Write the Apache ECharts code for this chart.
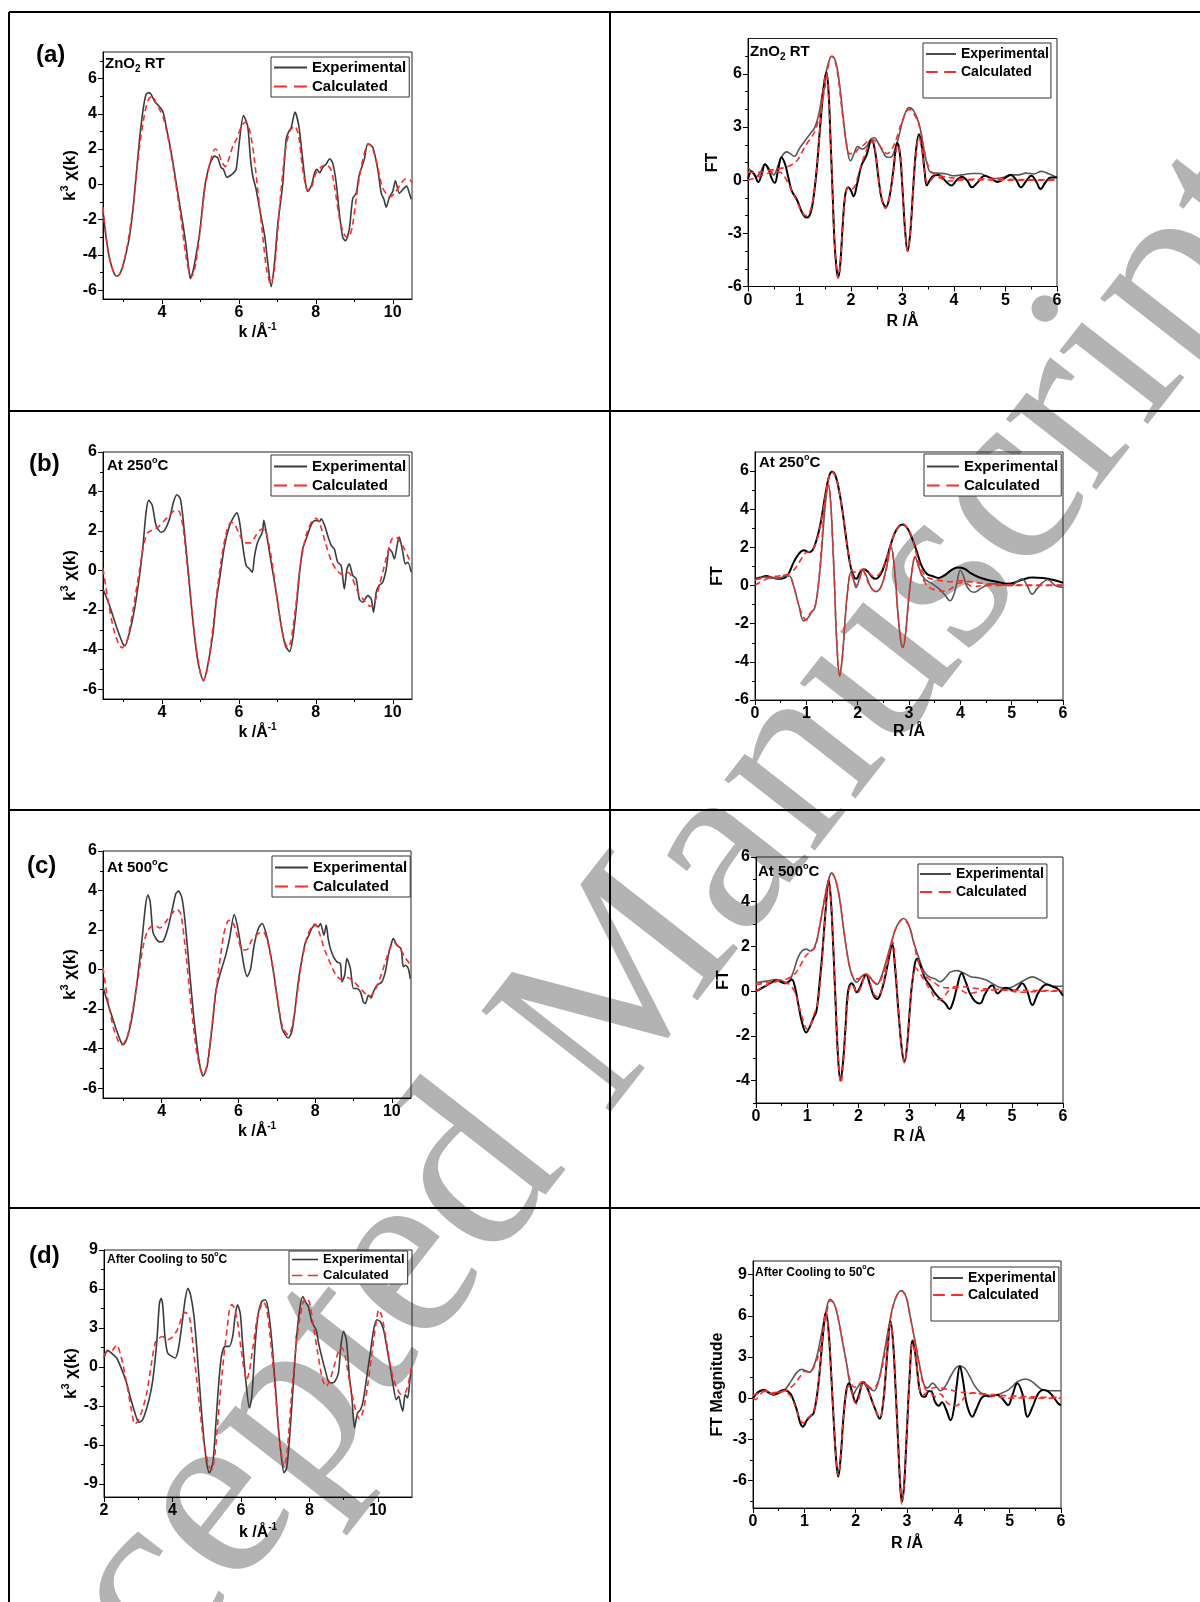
<!DOCTYPE html>
<html><head><meta charset="utf-8">
<script src="https://cdn.jsdelivr.net/npm/echarts@6/dist/echarts.min.js"></script>
<style>html,body{margin:0;padding:0;background:#fff}#c{width:1200px;height:1602px}</style>
</head><body><div id="c"></div>
<script>
// ---------------- tick labels ----------------
const kTicks = [4, 6, 8, 10];
const kMinor = [3, 5, 7, 9];
const kTicksD = [2, 4, 6, 8, 10];
const kMinorD = [3, 5, 7, 9];
const rTicks = [0, 1, 2, 3, 4, 5, 6];
const rMinor = [0.5, 1.5, 2.5, 3.5, 4.5, 5.5];
const yTicksK = [-6, -4, -2, 0, 2, 4, 6];
const yMinorKa = [-5, -3, -1, 1, 3, 5, 7];
const yMinorK = [-5, -3, -1, 1, 3, 5];
const yTicksFTa = [-6, -3, 0, 3, 6];
const yMinorFTa = [-5, -4, -2, -1, 1, 2, 4, 5, 7];
const yTicksFTb = [-6, -4, -2, 0, 2, 4, 6];
const yMinorFTb = [-5, -3, -1, 1, 3, 5];
const yTicksFTc = [-4, -2, 0, 2, 4, 6];
const yMinorFTc = [-5, -3, -1, 1, 3, 5];
const yTicksKd = [-9, -6, -3, 0, 3, 6, 9];
const yMinorKd = [-7.5, -4.5, -1.5, 1.5, 4.5, 7.5];
const yTicksFTd = [-6, -3, 0, 3, 6, 9];
const yMinorFTd = [-7.5, -4.5, -1.5, 1.5, 4.5, 7.5];

// ---------------- (a) ZnO2 RT ----------------
const aLeftExp = [[2.47,-1.5],[2.55,-3.0],[2.65,-4.3],[2.75,-5.0],[2.82,-5.2],[2.9,-5.1],[2.99,-4.6],[3.07,-3.9],[3.16,-2.95],[3.25,-1.4],[3.33,0.45],[3.42,2.55],[3.51,4.2],[3.59,5.1],[3.66,5.2],[3.72,5.1],[3.81,4.7],[3.94,4.4],[4.03,4.1],[4.11,3.3],[4.2,2.3],[4.29,1.2],[4.37,0.1],[4.46,-1.1],[4.55,-2.3],[4.63,-3.5],[4.7,-4.8],[4.74,-5.35],[4.8,-5.0],[4.85,-4.5],[4.98,-2.8],[5.11,-0.2],[5.24,1.1],[5.37,1.6],[5.45,1.5],[5.54,0.95],[5.6,0.85],[5.69,0.4],[5.78,0.5],[5.84,0.6],[5.93,0.85],[6.02,2.55],[6.12,3.9],[6.23,3.3],[6.3,1.5],[6.36,0.5],[6.45,-0.3],[6.54,-1.4],[6.67,-2.9],[6.75,-4.4],[6.84,-5.8],[6.93,-4.4],[7.01,-2.3],[7.14,0.0],[7.23,2.55],[7.3,3.0],[7.36,3.2],[7.46,4.1],[7.56,3.3],[7.65,1.6],[7.73,0.1],[7.79,-0.4],[7.88,-0.1],[7.97,0.65],[8.03,0.85],[8.1,0.65],[8.18,0.95],[8.27,1.15],[8.36,1.45],[8.44,1.2],[8.53,0.1],[8.62,-1.8],[8.7,-3.0],[8.77,-3.2],[8.87,-2.55],[8.96,-0.8],[9.05,-0.5],[9.13,0.55],[9.26,1.4],[9.35,2.3],[9.48,2.1],[9.61,0.85],[9.7,-0.5],[9.77,-0.85],[9.83,-1.3],[9.91,-0.75],[10.0,-0.4],[10.07,0.2],[10.17,-0.5],[10.3,-0.2],[10.36,-0.1],[10.43,-0.5],[10.48,-0.85]];
const aLeftCalc = [[2.47,-1.3],[2.6,-3.8],[2.75,-5.0],[2.85,-5.2],[2.95,-4.9],[3.1,-3.5],[3.25,-1.3],[3.4,1.8],[3.55,4.0],[3.65,4.8],[3.75,5.0],[3.85,4.6],[3.95,4.2],[4.05,3.7],[4.2,2.2],[4.35,0.2],[4.5,-2.0],[4.62,-4.0],[4.72,-5.1],[4.78,-5.2],[4.88,-4.5],[5.0,-2.5],[5.12,-0.2],[5.25,1.2],[5.38,2.0],[5.45,1.9],[5.55,1.3],[5.65,1.0],[5.75,1.5],[5.85,2.2],[5.95,2.6],[6.05,3.2],[6.15,3.5],[6.22,3.4],[6.3,2.9],[6.4,1.5],[6.5,-0.5],[6.6,-2.5],[6.72,-4.8],[6.82,-5.6],[6.9,-5.2],[6.98,-3.5],[7.07,-1.0],[7.2,1.8],[7.32,3.0],[7.45,3.3],[7.55,2.8],[7.65,1.0],[7.75,-0.2],[7.82,-0.35],[7.9,-0.1],[8.0,0.6],[8.15,1.0],[8.28,1.1],[8.4,0.8],[8.5,-0.3],[8.62,-2.0],[8.75,-2.9],[8.85,-3.0],[8.95,-2.4],[9.05,-0.8],[9.15,0.6],[9.28,1.9],[9.38,2.3],[9.48,2.0],[9.6,1.1],[9.72,-0.1],[9.85,-0.6],[9.95,-0.7],[10.05,-0.5],[10.2,0.0],[10.33,0.3],[10.42,0.3],[10.5,0.1]];
const aRightExpMag = [[0,0.7],[0.08,0.45],[0.16,0.2],[0.25,0.5],[0.33,0.9],[0.42,0.6],[0.5,0.3],[0.58,0.8],[0.66,1.35],[0.75,1.6],[0.82,1.5],[0.9,1.35],[1.0,1.8],[1.1,2.2],[1.2,2.6],[1.3,3.0],[1.38,3.8],[1.45,5.0],[1.55,6.5],[1.63,7.0],[1.7,6.7],[1.77,5.6],[1.85,3.5],[1.92,1.9],[1.99,1.1],[2.06,1.5],[2.13,1.9],[2.22,1.75],[2.3,1.9],[2.38,2.3],[2.45,2.4],[2.53,2.1],[2.62,1.6],[2.7,1.3],[2.77,1.3],[2.85,1.7],[2.93,2.5],[3.02,3.5],[3.13,4.1],[3.22,3.9],[3.32,3.2],[3.4,2.0],[3.47,1.0],[3.55,0.45],[3.7,0.4],[3.85,0.35],[4.0,0.25],[4.15,0.3],[4.35,0.38],[4.5,0.38],[4.65,0.2],[4.8,0.1],[4.95,0.15],[5.1,0.3],[5.25,0.3],[5.4,0.4],[5.55,0.35],[5.7,0.5],[5.85,0.35],[6.0,0.15]];
const aRightExpRe = [[0,0.05],[0.07,0.5],[0.13,0.3],[0.2,-0.1],[0.27,0.4],[0.33,0.9],[0.4,0.6],[0.46,0.1],[0.52,-0.15],[0.58,0.5],[0.65,1.3],[0.72,0.9],[0.78,0.2],[0.85,-0.6],[0.95,-1.1],[1.03,-1.7],[1.1,-2.05],[1.15,-2.1],[1.22,-1.8],[1.28,-0.8],[1.34,0.8],[1.4,3.0],[1.47,5.2],[1.52,6.1],[1.56,5.2],[1.6,2.5],[1.64,-0.5],[1.68,-3.5],[1.72,-5.0],[1.75,-5.5],[1.79,-4.8],[1.84,-2.5],[1.89,-0.8],[1.95,-0.4],[2.0,-0.6],[2.05,-0.9],[2.12,-0.2],[2.2,0.8],[2.3,1.4],[2.4,2.3],[2.47,1.6],[2.53,0.2],[2.6,-1.1],[2.68,-1.5],[2.75,-0.9],[2.82,0.5],[2.9,2.1],[2.95,1.5],[3.0,-0.5],[3.05,-2.8],[3.1,-4.0],[3.15,-3.0],[3.2,-0.8],[3.26,1.6],[3.32,2.6],[3.38,1.8],[3.43,0.5],[3.47,-0.3],[3.53,0.0],[3.6,0.25],[3.7,0.3],[3.82,0.0],[3.95,-0.3],[4.05,0.0],[4.15,0.2],[4.25,0.0],[4.35,-0.4],[4.45,-0.15],[4.6,0.25],[4.72,0.1],[4.85,-0.1],[4.98,0.1],[5.1,0.3],[5.2,0.05],[5.3,-0.4],[5.4,-0.05],[5.5,0.25],[5.6,-0.1],[5.68,-0.5],[5.78,-0.1],[5.88,0.15],[6.0,0.15]];
const aRightCalcMag = [[0,0.45],[0.2,0.45],[0.4,0.55],[0.6,0.65],[0.8,0.8],[0.95,1.1],[1.05,1.6],[1.15,2.1],[1.25,2.5],[1.33,3.0],[1.4,3.9],[1.48,5.0],[1.55,6.3],[1.62,7.0],[1.68,6.8],[1.75,5.8],[1.83,3.8],[1.9,2.3],[1.97,1.5],[2.05,1.5],[2.15,1.8],[2.25,2.0],[2.38,2.3],[2.48,2.2],[2.6,1.8],[2.7,1.5],[2.8,1.8],[2.9,2.5],[3.0,3.4],[3.13,4.0],[3.25,3.6],[3.35,2.8],[3.45,1.3],[3.55,0.5],[3.65,0.3],[3.8,0.2],[4.0,0.12],[4.3,0.05],[4.6,0.08],[5.0,0.05],[5.5,0.03],[6.0,0.02]];
const aRightCalcRe = [[0,0.0],[0.15,0.15],[0.3,0.3],[0.45,0.45],[0.55,0.5],[0.65,0.4],[0.75,0.0],[0.85,-0.6],[0.95,-1.2],[1.05,-1.8],[1.12,-2.0],[1.18,-1.9],[1.24,-1.4],[1.3,-0.3],[1.36,1.5],[1.42,3.8],[1.48,5.6],[1.52,6.0],[1.56,5.0],[1.6,2.5],[1.64,-0.5],[1.68,-3.5],[1.72,-5.0],[1.75,-5.5],[1.79,-4.8],[1.84,-2.5],[1.9,-0.7],[1.96,-0.4],[2.02,-0.5],[2.08,-0.3],[2.15,0.4],[2.25,1.3],[2.35,2.0],[2.42,2.2],[2.5,1.0],[2.58,-0.8],[2.67,-1.6],[2.75,-0.9],[2.83,0.6],[2.91,2.0],[2.96,1.4],[3.0,-0.5],[3.05,-2.8],[3.1,-4.0],[3.15,-3.0],[3.2,-0.8],[3.26,1.4],[3.32,2.4],[3.38,1.7],[3.43,0.4],[3.5,-0.2],[3.58,0.1],[3.65,0.2],[3.75,0.1],[3.9,-0.05],[4.1,0.0],[4.4,0.02],[5.0,0.0],[6.0,0.0]];

// ---------------- (b) At 250 C ----------------
const bLeftExp = [[2.47,-0.93],[2.64,-1.77],[2.81,-2.79],[2.99,-3.72],[3.04,-3.8],[3.16,-3.13],[3.29,-1.94],[3.42,-0.25],[3.51,1.27],[3.59,2.96],[3.66,3.55],[3.75,3.3],[3.85,2.28],[3.98,1.94],[4.07,2.03],[4.2,2.62],[4.3,3.46],[4.39,3.84],[4.48,3.63],[4.56,2.45],[4.68,0.08],[4.81,-2.62],[4.94,-4.65],[5.08,-5.58],[5.19,-4.82],[5.32,-3.3],[5.41,-1.6],[5.5,-0.42],[5.63,1.27],[5.76,2.28],[5.89,2.79],[5.95,2.92],[6.02,2.45],[6.1,1.27],[6.19,0.25],[6.28,0.08],[6.35,-0.08],[6.41,0.76],[6.49,1.44],[6.61,1.94],[6.65,2.54],[6.71,1.94],[6.84,0.42],[6.97,-1.1],[7.1,-2.79],[7.21,-3.8],[7.32,-4.1],[7.4,-3.46],[7.49,-1.94],[7.58,-0.08],[7.66,1.1],[7.75,1.6],[7.84,2.11],[7.92,2.45],[8.01,2.54],[8.1,2.48],[8.14,2.62],[8.23,2.28],[8.31,1.77],[8.4,1.27],[8.48,1.1],[8.57,0.42],[8.66,0.25],[8.74,-0.93],[8.81,0.08],[8.87,0.34],[8.96,-0.25],[9.05,-0.42],[9.13,-1.44],[9.22,-1.6],[9.35,-1.27],[9.44,-1.44],[9.5,-2.11],[9.57,-1.1],[9.64,-0.76],[9.74,-0.59],[9.83,0.08],[9.91,1.1],[9.98,0.93],[10.04,0.59],[10.13,1.44],[10.17,1.69],[10.26,0.93],[10.33,0.34],[10.39,0.42],[10.48,-0.08]];
const bLeftCalc = [[2.47,0.1],[2.6,-1.5],[2.75,-3.0],[2.9,-3.8],[2.97,-3.9],[3.1,-3.5],[3.25,-2.0],[3.4,-0.2],[3.52,1.2],[3.62,1.9],[3.75,2.05],[3.9,2.2],[4.05,2.5],[4.2,2.8],[4.35,3.05],[4.45,3.0],[4.55,2.2],[4.7,-0.5],[4.85,-3.3],[5.0,-5.2],[5.08,-5.55],[5.18,-5.0],[5.32,-3.0],[5.45,-0.8],[5.58,1.0],[5.7,2.1],[5.8,2.45],[5.9,2.3],[6.0,1.9],[6.15,1.4],[6.3,1.4],[6.45,1.8],[6.6,2.1],[6.7,2.0],[6.85,0.6],[7.0,-1.5],[7.15,-3.3],[7.27,-3.9],[7.35,-3.6],[7.48,-1.8],[7.6,0.3],[7.75,1.8],[7.9,2.5],[8.0,2.65],[8.1,2.4],[8.25,1.4],[8.4,0.5],[8.55,0.0],[8.7,-0.2],[8.85,-0.1],[8.95,-0.4],[9.1,-1.1],[9.25,-1.5],[9.4,-1.8],[9.5,-1.75],[9.62,-1.0],[9.75,0.0],[9.88,1.0],[9.98,1.6],[10.08,1.7],[10.18,1.5],[10.3,1.1],[10.42,0.6],[10.5,0.3]];
const bRightExpMag = [[0,0.35],[0.1,0.42],[0.22,0.5],[0.32,0.42],[0.45,0.35],[0.55,0.38],[0.65,0.6],[0.75,1.2],[0.85,1.65],[0.95,1.85],[1.05,1.75],[1.12,1.85],[1.2,2.4],[1.28,3.3],[1.36,4.6],[1.44,5.7],[1.5,5.97],[1.57,5.75],[1.65,4.8],[1.72,3.6],[1.8,2.0],[1.87,0.9],[1.93,0.45],[1.97,0.35],[2.05,0.7],[2.12,0.85],[2.2,0.72],[2.28,0.45],[2.35,0.35],[2.45,0.6],[2.55,1.3],[2.65,2.2],[2.75,2.9],[2.87,3.2],[2.97,3.0],[3.07,2.4],[3.15,1.8],[3.25,1.0],[3.35,0.6],[3.45,0.5],[3.58,0.4],[3.7,0.55],[3.82,0.8],[3.95,0.95],[4.08,0.88],[4.2,0.65],[4.35,0.45],[4.5,0.32],[4.7,0.2],[4.9,0.1],[5.05,0.15],[5.2,0.3],[5.4,0.42],[5.6,0.4],[5.8,0.3],[6.0,0.15]];
const bRightExpRe = [[0,0.3],[0.1,0.4],[0.2,0.45],[0.3,0.4],[0.4,0.38],[0.5,0.4],[0.6,0.5],[0.67,0.5],[0.75,0.0],[0.85,-1.0],[0.95,-1.85],[1.03,-1.7],[1.1,-1.4],[1.16,-1.2],[1.22,-0.3],[1.28,1.2],[1.33,3.0],[1.38,4.5],[1.43,5.25],[1.47,4.5],[1.51,2.5],[1.55,0.0],[1.59,-2.8],[1.65,-4.75],[1.7,-3.8],[1.75,-2.0],[1.8,-0.4],[1.87,0.7],[1.92,0.3],[1.97,-0.1],[2.04,0.4],[2.1,0.8],[2.17,0.5],[2.25,-0.05],[2.35,-0.32],[2.45,-0.1],[2.55,0.8],[2.65,2.0],[2.72,0.8],[2.78,-1.3],[2.84,-2.9],[2.88,-3.25],[2.93,-2.6],[2.99,-0.8],[3.05,0.6],[3.12,1.5],[3.2,0.9],[3.3,0.35],[3.45,0.1],[3.6,-0.2],[3.7,-0.5],[3.8,-0.8],[3.87,-0.5],[3.93,0.1],[4.0,0.8],[4.06,0.5],[4.12,0.0],[4.2,-0.3],[4.27,-0.35],[4.4,-0.15],[4.6,0.1],[4.8,0.05],[5.0,0.0],[5.1,0.2],[5.2,0.35],[5.3,0.0],[5.4,-0.45],[5.5,-0.15],[5.6,0.15],[5.7,0.3],[5.85,0.0],[6.0,-0.1]];
const bRightCalcMag = [[0,0.3],[0.15,0.38],[0.3,0.45],[0.45,0.5],[0.6,0.55],[0.75,0.8],[0.88,1.3],[0.98,1.7],[1.08,1.8],[1.15,2.0],[1.22,2.5],[1.3,3.5],[1.38,4.8],[1.45,5.8],[1.5,5.95],[1.57,5.7],[1.65,4.8],[1.72,3.6],[1.8,2.0],[1.88,0.85],[1.95,0.7],[2.02,0.75],[2.1,0.85],[2.2,0.7],[2.3,0.5],[2.4,0.55],[2.5,1.0],[2.6,1.8],[2.7,2.6],[2.8,3.1],[2.87,3.25],[2.97,3.0],[3.05,2.6],[3.15,1.6],[3.25,0.8],[3.35,0.45],[3.5,0.3],[3.65,0.25],[3.8,0.2],[4.0,0.25],[4.2,0.2],[4.4,0.12],[4.7,0.05],[5.0,0.04],[5.5,0.02],[6.0,0.02]];
const bRightCalcRe = [[0,0.0],[0.15,0.25],[0.3,0.4],[0.45,0.45],[0.6,0.55],[0.68,0.45],[0.75,0.0],[0.85,-1.0],[0.95,-1.7],[1.0,-1.8],[1.05,-1.55],[1.12,-1.3],[1.18,-1.0],[1.24,0.2],[1.3,2.2],[1.36,4.3],[1.43,5.3],[1.47,4.5],[1.51,2.5],[1.55,0.0],[1.59,-2.8],[1.65,-4.7],[1.7,-3.8],[1.75,-2.0],[1.8,-0.4],[1.87,0.7],[1.92,0.3],[1.98,0.0],[2.04,0.4],[2.1,0.8],[2.17,0.4],[2.25,-0.1],[2.35,-0.3],[2.45,-0.1],[2.55,0.8],[2.65,2.0],[2.72,0.8],[2.78,-1.3],[2.84,-2.9],[2.88,-3.2],[2.93,-2.6],[2.99,-0.8],[3.05,0.6],[3.12,1.5],[3.2,0.9],[3.3,0.2],[3.42,-0.15],[3.55,-0.25],[3.7,-0.3],[3.85,-0.1],[4.0,0.15],[4.12,0.1],[4.25,-0.05],[4.5,0.0],[5.0,0.0],[6.0,0.0]];

// ---------------- (c) At 500 C ----------------
const cLeftExp = [[2.47,-0.88],[2.64,-1.98],[2.81,-2.99],[2.94,-3.67],[3.0,-3.8],[3.12,-3.33],[3.25,-2.15],[3.38,-0.29],[3.49,1.57],[3.58,3.26],[3.64,3.77],[3.7,3.43],[3.77,1.91],[3.85,1.57],[3.94,1.4],[4.04,1.44],[4.16,2.08],[4.29,3.18],[4.37,3.85],[4.44,3.97],[4.53,3.6],[4.61,2.42],[4.72,0.05],[4.85,-2.65],[4.98,-4.68],[5.08,-5.39],[5.19,-4.85],[5.31,-2.99],[5.41,-1.13],[5.5,-0.37],[5.58,0.14],[5.67,0.73],[5.77,1.57],[5.89,2.79],[5.97,2.25],[6.06,1.23],[6.15,0.14],[6.23,-0.35],[6.32,0.05],[6.41,1.23],[6.52,2.08],[6.62,2.33],[6.71,1.91],[6.81,1.06],[6.93,-0.29],[7.04,-1.81],[7.14,-2.99],[7.23,-3.33],[7.3,-3.46],[7.39,-3.16],[7.47,-2.15],[7.56,-0.63],[7.66,0.56],[7.75,1.4],[7.84,1.74],[7.92,2.11],[8.01,2.25],[8.08,2.16],[8.14,2.33],[8.23,1.74],[8.29,2.25],[8.34,1.57],[8.4,1.06],[8.48,0.64],[8.57,0.39],[8.66,0.3],[8.7,-0.63],[8.77,-0.29],[8.83,0.56],[8.92,0.05],[9.0,-0.96],[9.09,-0.96],[9.18,-1.13],[9.26,-1.64],[9.31,-1.72],[9.39,-1.3],[9.46,-1.44],[9.52,-1.13],[9.61,-0.8],[9.74,-0.63],[9.83,-0.12],[9.91,0.73],[10.0,1.4],[10.04,1.57],[10.13,1.23],[10.24,1.06],[10.3,0.14],[10.36,0.22],[10.43,0.05],[10.48,-0.46]];
const cLeftCalc = [[2.47,0.1],[2.6,-1.6],[2.75,-3.0],[2.9,-3.75],[2.97,-3.8],[3.1,-3.4],[3.25,-2.0],[3.4,-0.2],[3.52,1.2],[3.62,1.9],[3.75,2.2],[3.85,2.2],[3.95,2.1],[4.1,2.4],[4.25,2.8],[4.4,3.05],[4.5,2.8],[4.62,1.0],[4.75,-1.5],[4.9,-4.0],[5.02,-5.1],[5.1,-5.3],[5.2,-4.6],[5.35,-2.2],[5.5,0.2],[5.62,1.8],[5.72,2.45],[5.8,2.5],[5.9,2.2],[6.0,1.5],[6.1,1.0],[6.22,1.0],[6.35,1.5],[6.5,1.8],[6.65,1.9],[6.75,1.5],[6.88,0.3],[7.0,-1.3],[7.15,-2.9],[7.3,-3.3],[7.4,-2.9],[7.52,-1.4],[7.65,0.4],[7.8,1.7],[7.92,2.2],[8.0,2.3],[8.12,1.8],[8.25,1.0],[8.4,0.3],[8.55,-0.3],[8.7,-0.5],[8.85,-0.4],[9.0,-0.6],[9.15,-0.9],[9.3,-1.2],[9.42,-1.35],[9.55,-1.1],[9.7,-0.4],[9.85,0.5],[9.98,1.2],[10.07,1.35],[10.2,1.1],[10.35,0.6],[10.5,0.2]];
const cRightExpMag = [[0,0.37],[0.2,0.45],[0.4,0.52],[0.55,0.42],[0.62,0.38],[0.72,0.8],[0.82,1.5],[0.9,1.8],[0.98,1.88],[1.06,1.8],[1.14,1.95],[1.22,2.6],[1.3,3.6],[1.38,4.6],[1.44,5.15],[1.48,5.29],[1.55,5.0],[1.63,4.2],[1.7,3.0],[1.78,1.7],[1.85,0.9],[1.92,0.5],[1.97,0.4],[2.05,0.62],[2.13,0.75],[2.22,0.65],[2.3,0.4],[2.36,0.3],[2.45,0.65],[2.55,1.4],[2.65,2.2],[2.75,2.9],[2.88,3.25],[2.98,3.0],[3.08,2.2],[3.18,1.5],[3.28,0.9],[3.38,0.65],[3.5,0.55],[3.6,0.42],[3.7,0.6],[3.8,0.85],[3.93,0.92],[4.05,0.82],[4.2,0.65],[4.35,0.6],[4.5,0.5],[4.65,0.3],[4.8,0.15],[4.95,0.15],[5.1,0.3],[5.25,0.5],[5.4,0.64],[5.55,0.5],[5.7,0.3],[5.85,0.22],[6.0,0.22]];
const cRightExpRe = [[0,0.0],[0.1,0.12],[0.2,0.25],[0.3,0.38],[0.4,0.48],[0.5,0.4],[0.58,0.35],[0.65,0.45],[0.7,0.52],[0.76,0.2],[0.82,-0.5],[0.9,-1.4],[0.98,-1.85],[1.05,-1.6],[1.12,-1.2],[1.18,-0.9],[1.24,0.3],[1.3,1.8],[1.36,3.6],[1.42,4.96],[1.46,4.2],[1.5,2.5],[1.55,-0.2],[1.6,-2.8],[1.65,-4.0],[1.7,-3.2],[1.75,-1.6],[1.8,0.0],[1.87,0.35],[1.92,0.2],[1.96,-0.05],[2.02,0.1],[2.1,0.55],[2.15,0.75],[2.22,0.35],[2.3,-0.2],[2.37,-0.35],[2.45,0.0],[2.52,0.6],[2.6,1.5],[2.66,2.1],[2.72,1.0],[2.78,-0.8],[2.85,-2.6],[2.9,-3.15],[2.95,-2.5],[3.0,-1.0],[3.06,0.5],[3.15,1.45],[3.22,1.1],[3.3,0.6],[3.4,0.25],[3.5,-0.1],[3.6,-0.35],[3.7,-0.55],[3.78,-0.8],[3.85,-0.5],[3.92,0.1],[4.02,0.8],[4.1,0.4],[4.18,-0.1],[4.28,-0.45],[4.38,-0.55],[4.47,-0.15],[4.57,0.2],[4.62,0.25],[4.72,-0.1],[4.8,0.05],[4.88,0.15],[4.96,0.1],[5.05,0.0],[5.12,0.15],[5.2,0.35],[5.3,0.0],[5.4,-0.62],[5.5,-0.15],[5.6,0.2],[5.68,0.3],[5.8,0.2],[5.9,0.1],[6.0,-0.2]];
const cRightCalcMag = [[0,0.3],[0.15,0.35],[0.3,0.42],[0.45,0.5],[0.6,0.55],[0.75,0.75],[0.88,1.2],[0.98,1.6],[1.08,1.8],[1.16,2.0],[1.24,2.9],[1.32,3.9],[1.4,4.8],[1.48,5.25],[1.55,5.0],[1.63,4.2],[1.7,3.0],[1.78,1.7],[1.85,0.9],[1.92,0.6],[2.0,0.55],[2.08,0.7],[2.15,0.75],[2.25,0.55],[2.35,0.35],[2.45,0.55],[2.55,1.3],[2.65,2.2],[2.75,2.9],[2.87,3.2],[2.97,3.0],[3.06,2.4],[3.15,1.5],[3.25,0.9],[3.35,0.6],[3.45,0.45],[3.6,0.2],[3.75,0.15],[3.9,0.2],[4.05,0.2],[4.3,0.12],[4.6,0.1],[5.0,0.05],[5.5,0.03],[6.0,0.03]];
const cRightCalcRe = [[0,0.0],[0.15,0.2],[0.3,0.35],[0.45,0.45],[0.55,0.4],[0.65,0.3],[0.75,0.0],[0.83,-0.6],[0.92,-1.3],[1.0,-1.7],[1.07,-1.5],[1.14,-1.0],[1.2,-0.6],[1.26,0.5],[1.32,2.3],[1.38,4.2],[1.42,4.9],[1.46,4.2],[1.5,2.5],[1.55,-0.2],[1.6,-2.8],[1.66,-4.1],[1.71,-3.1],[1.76,-1.4],[1.82,0.1],[1.88,0.3],[1.93,0.1],[1.98,-0.1],[2.05,0.2],[2.12,0.65],[2.17,0.75],[2.24,0.3],[2.31,-0.15],[2.38,-0.25],[2.46,0.1],[2.55,1.0],[2.62,1.9],[2.67,2.2],[2.72,1.2],[2.78,-0.8],[2.85,-2.6],[2.9,-3.2],[2.95,-2.5],[3.0,-1.0],[3.06,0.5],[3.12,1.05],[3.2,0.8],[3.3,0.45],[3.42,0.0],[3.5,-0.3],[3.58,-0.38],[3.66,-0.3],[3.76,0.0],[3.88,0.15],[4.0,0.05],[4.15,-0.1],[4.3,-0.05],[4.5,0.05],[4.8,0.05],[5.2,-0.05],[5.6,0.0],[6.0,0.0]];

// ---------------- (d) After cooling to 50 C ----------------
const dLeftExp = [[2.0,0.69],[2.1,1.28],[2.22,1.07],[2.37,0.69],[2.52,-0.2],[2.66,-1.23],[2.76,-2.25],[2.86,-3.15],[2.96,-3.99],[3.03,-4.25],[3.13,-4.04],[3.25,-3.15],[3.36,-1.99],[3.44,-0.72],[3.54,1.84],[3.62,4.91],[3.67,5.29],[3.72,4.65],[3.78,2.35],[3.86,1.07],[3.98,0.82],[4.08,0.69],[4.17,1.33],[4.27,3.12],[4.37,5.17],[4.45,6.06],[4.53,5.55],[4.63,3.89],[4.73,0.82],[4.83,-2.76],[4.92,-5.58],[5.0,-7.37],[5.08,-8.13],[5.18,-7.37],[5.27,-4.3],[5.36,-0.97],[5.44,0.95],[5.54,1.59],[5.66,1.59],[5.76,2.35],[5.83,3.89],[5.9,4.78],[5.98,4.14],[6.05,1.84],[6.15,-1.23],[6.25,-3.15],[6.32,-2.25],[6.42,1.84],[6.51,4.14],[6.61,5.04],[6.71,5.17],[6.8,4.4],[6.9,2.1],[7.0,-1.23],[7.1,-4.81],[7.18,-6.85],[7.26,-8.13],[7.34,-7.75],[7.44,-4.81],[7.54,-0.97],[7.63,2.35],[7.73,4.65],[7.81,5.42],[7.88,5.04],[7.97,4.65],[8.07,3.5],[8.14,3.12],[8.2,2.86],[8.27,1.84],[8.36,0.82],[8.46,-0.2],[8.56,-1.1],[8.66,-1.23],[8.75,-1.1],[8.85,-0.46],[8.92,1.59],[9.0,2.74],[9.08,2.1],[9.17,-0.72],[9.24,-2.25],[9.32,-4.68],[9.41,-3.53],[9.5,-3.27],[9.58,-2.51],[9.68,-0.72],[9.78,1.07],[9.88,2.86],[9.97,3.63],[10.07,3.5],[10.17,2.86],[10.26,1.59],[10.36,0.05],[10.44,-1.23],[10.54,-2.51],[10.61,-2.25],[10.67,-2.89],[10.73,-3.4],[10.8,-2.12],[10.87,-2.38],[10.93,-1.23],[10.97,-0.2]];
const dLeftCalc = [[2.0,0.9],[2.1,1.2],[2.25,1.3],[2.37,1.7],[2.5,0.8],[2.66,-1.2],[2.8,-3.3],[2.9,-4.4],[3.0,-4.1],[3.12,-3.3],[3.25,-2.0],[3.4,0.5],[3.5,1.9],[3.6,2.2],[3.7,2.35],[3.85,2.1],[4.0,2.3],[4.15,2.9],[4.3,4.0],[4.38,4.2],[4.5,3.8],[4.62,1.2],[4.75,-2.0],[4.9,-5.5],[5.05,-7.5],[5.15,-7.9],[5.25,-6.5],[5.38,-2.5],[5.5,0.8],[5.6,3.0],[5.66,4.3],[5.73,4.8],[5.8,4.6],[5.9,3.5],[6.0,1.5],[6.1,-0.3],[6.17,-0.97],[6.25,-0.3],[6.35,1.5],[6.48,3.8],[6.6,4.8],[6.66,5.0],[6.75,4.5],[6.85,2.5],[6.97,-0.8],[7.1,-4.8],[7.2,-7.0],[7.26,-7.7],[7.35,-6.5],[7.5,-1.5],[7.65,2.5],[7.8,4.8],[7.9,5.3],[8.0,5.0],[8.1,3.5],[8.25,1.0],[8.38,-0.9],[8.49,-1.5],[8.6,-1.0],[8.75,0.3],[8.85,1.2],[8.95,1.5],[9.05,0.8],[9.2,-1.5],[9.35,-3.3],[9.47,-4.0],[9.58,-3.3],[9.7,-1.5],[9.85,1.5],[9.95,3.4],[10.03,4.4],[10.12,3.9],[10.25,2.0],[10.4,-0.3],[10.55,-1.6],[10.68,-2.1],[10.8,-2.0],[10.9,-1.2],[11.0,0.3]];
const dRightExpMag = [[0,0.1],[0.1,0.4],[0.2,0.6],[0.28,0.5],[0.36,0.35],[0.46,0.3],[0.55,0.45],[0.64,0.7],[0.75,1.3],[0.86,1.9],[0.95,2.1],[1.03,2.0],[1.1,1.9],[1.18,2.3],[1.26,3.3],[1.34,4.8],[1.42,6.3],[1.5,7.2],[1.58,6.9],[1.66,5.8],[1.74,4.2],[1.82,2.6],[1.88,1.2],[1.95,0.25],[2.02,0.7],[2.1,1.1],[2.15,1.2],[2.22,0.95],[2.3,0.65],[2.36,0.55],[2.45,1.3],[2.55,3.2],[2.65,5.3],[2.75,7.0],[2.89,7.85],[2.98,7.4],[3.06,6.0],[3.15,4.3],[3.25,2.3],[3.33,1.0],[3.4,0.75],[3.5,1.1],[3.58,0.8],[3.65,0.55],[3.75,0.9],[3.85,1.6],[3.95,2.2],[4.02,2.35],[4.12,2.2],[4.22,1.6],[4.32,0.9],[4.42,0.45],[4.52,0.2],[4.6,0.12],[4.7,0.2],[4.8,0.3],[4.95,0.55],[5.05,0.85],[5.15,1.2],[5.3,1.4],[5.42,1.25],[5.55,0.85],[5.65,0.6],[5.8,0.55],[6.0,0.55]];
const dRightExpRe = [[0,0.0],[0.06,0.3],[0.12,0.5],[0.22,0.6],[0.3,0.4],[0.4,0.25],[0.5,0.45],[0.6,0.6],[0.68,0.5],[0.75,0.2],[0.85,-0.8],[0.92,-1.8],[0.97,-2.07],[1.05,-1.6],[1.12,-1.3],[1.18,-1.1],[1.25,0.3],[1.3,2.0],[1.36,4.5],[1.42,6.25],[1.47,5.0],[1.52,2.0],[1.57,-1.5],[1.62,-4.5],[1.66,-5.72],[1.71,-4.2],[1.76,-1.5],[1.82,0.6],[1.87,1.1],[1.92,0.6],[1.97,-0.1],[2.0,-0.3],[2.06,0.2],[2.15,1.15],[2.22,0.8],[2.3,0.0],[2.38,-0.8],[2.47,-1.5],[2.53,-0.5],[2.58,1.5],[2.63,4.0],[2.68,5.6],[2.73,4.0],[2.78,0.5],[2.83,-3.5],[2.87,-6.5],[2.9,-7.55],[2.94,-6.5],[2.99,-3.0],[3.05,1.5],[3.11,4.2],[3.17,3.0],[3.23,1.0],[3.28,0.2],[3.35,0.1],[3.42,0.5],[3.47,0.5],[3.55,-0.3],[3.62,-0.55],[3.68,-0.3],[3.76,-0.8],[3.85,-1.6],[3.92,-0.6],[3.97,1.0],[4.03,2.35],[4.09,1.3],[4.15,-0.2],[4.21,-1.0],[4.27,-1.35],[4.35,-0.8],[4.45,0.0],[4.55,0.2],[4.65,0.15],[4.75,0.25],[4.85,0.0],[4.97,-0.5],[5.05,0.2],[5.15,1.1],[5.25,0.3],[5.35,-1.35],[5.45,-0.6],[5.55,0.3],[5.65,0.6],[5.75,0.5],[5.85,0.1],[5.95,-0.4],[6.0,-0.5]];
const dRightCalcMag = [[0,0.2],[0.12,0.4],[0.22,0.55],[0.35,0.4],[0.5,0.45],[0.65,0.6],[0.8,1.0],[0.92,1.6],[1.0,1.95],[1.1,1.9],[1.2,2.4],[1.3,3.5],[1.38,5.2],[1.45,6.5],[1.5,7.1],[1.58,6.9],[1.66,5.8],[1.74,4.2],[1.82,2.6],[1.9,1.2],[1.98,0.8],[2.05,1.0],[2.13,1.2],[2.22,1.0],[2.32,0.7],[2.4,0.9],[2.5,2.0],[2.6,4.0],[2.7,6.2],[2.8,7.5],[2.89,7.8],[2.98,7.4],[3.06,6.0],[3.15,4.2],[3.25,2.2],[3.32,1.0],[3.4,0.55],[3.5,0.75],[3.6,0.8],[3.72,0.7],[3.85,0.6],[4.0,0.45],[4.2,0.4],[4.4,0.35],[4.6,0.3],[4.8,0.22],[5.0,0.18],[5.3,0.12],[5.6,0.08],[6.0,0.05]];
const dRightCalcRe = [[0,0.0],[0.05,-0.1],[0.12,0.2],[0.22,0.5],[0.32,0.35],[0.42,0.3],[0.52,0.45],[0.6,0.5],[0.68,0.35],[0.76,0.0],[0.84,-0.8],[0.92,-1.6],[0.98,-1.8],[1.05,-1.5],[1.12,-1.3],[1.18,-1.0],[1.25,0.3],[1.3,2.0],[1.36,4.5],[1.42,6.3],[1.47,5.0],[1.52,2.0],[1.57,-1.5],[1.62,-4.5],[1.66,-5.6],[1.71,-4.2],[1.76,-1.5],[1.82,0.5],[1.87,0.9],[1.92,0.5],[1.97,-0.2],[2.02,-0.4],[2.08,0.3],[2.15,1.2],[2.22,0.8],[2.3,0.0],[2.38,-0.8],[2.47,-1.4],[2.53,-0.5],[2.58,1.5],[2.63,4.0],[2.68,5.5],[2.73,4.0],[2.78,0.5],[2.83,-3.5],[2.87,-6.5],[2.9,-7.7],[2.94,-6.5],[2.99,-3.0],[3.05,1.5],[3.11,4.0],[3.17,3.0],[3.23,1.0],[3.3,0.2],[3.4,0.4],[3.48,0.3],[3.56,0.1],[3.65,0.3],[3.75,-0.2],[3.85,-0.5],[3.95,-0.55],[4.05,-0.3],[4.15,0.2],[4.3,0.4],[4.45,0.3],[4.6,0.2],[4.8,0.1],[5.0,0.0],[5.3,0.02],[5.6,0.0],[6.0,0.0]];

// ---------------- layout & styles ----------------
const F = '"Liberation Sans", Arial, Helvetica, sans-serif';
const GRAY = '#3c3c3c', MAGG = '#585858', BLK = '#000000', RED = '#ff2b2b';
const kName = {text:'{a|k /Å}{b|-1}', rich:{a:{fontSize:16,fontWeight:'bold',fontFamily:F,color:'#000',lineHeight:22}, b:{fontSize:10,fontWeight:'bold',fontFamily:F,color:'#000',lineHeight:10,verticalAlign:'top'}}};
const rName = {text:'R /Å', rich:null};
const chiName = {text:'{a|k}{b|3}{a| χ(k)}', rich:{a:{fontSize:17,fontWeight:'bold',fontFamily:F,color:'#000',lineHeight:22}, b:{fontSize:11,fontWeight:'bold',fontFamily:F,color:'#000',lineHeight:11,verticalAlign:'top'}}};
const ftName = {text:'FT', rich:null};
const ftmName = {text:'FT Magnitude', rich:null};

function S(name, data, color, width, dashed){ return {name, data, color, width, dashed}; }

const panels = [
 {g:[103,52,309,247], x:[2.47,10.5], y:[-6.5,7.5], xt:kTicks, xm:kMinor, yt:yTicksK, ym:yMinorKa, xn:kName, yn:chiName, xg:17, yg:20,
  s:[S('Experimental',aLeftExp,GRAY,1.6,false), S('Calculated',aLeftCalc,RED,1.6,true)], sm:0.25},
 {g:[748,38.5,309,248], x:[0,6], y:[-6,8], xt:rTicks, xm:rMinor, yt:yTicksFTa, ym:yMinorFTa, xn:rName, yn:ftName, xg:27, yg:27,
  s:[S('Experimental',aRightExpMag,MAGG,1.6,false), S('Experimental',aRightExpRe,BLK,2,false), S('Calculated',aRightCalcMag,RED,1.6,true), S('Calculated',aRightCalcRe,RED,1.6,true)], sm:0.4},
 {g:[103,452,309,247], x:[2.47,10.5], y:[-6.5,6], xt:kTicks, xm:kMinor, yt:yTicksK, ym:yMinorK, xn:kName, yn:chiName, xg:17, yg:20,
  s:[S('Experimental',bLeftExp,GRAY,1.6,false), S('Calculated',bLeftCalc,RED,1.6,true)], sm:0.25},
 {g:[755,452,308,248], x:[0,6], y:[-6,7], xt:rTicks, xm:rMinor, yt:yTicksFTb, ym:yMinorFTb, xn:rName, yn:ftName, xg:24, yg:29,
  s:[S('Experimental',bRightExpMag,BLK,2,false), S('Experimental',bRightExpRe,MAGG,1.6,false), S('Calculated',bRightCalcMag,RED,1.6,true), S('Calculated',bRightCalcRe,RED,1.6,true)], sm:0.4},
 {g:[103,851,308,247], x:[2.47,10.5], y:[-6.5,6], xt:kTicks, xm:kMinor, yt:yTicksK, ym:yMinorK, xn:kName, yn:chiName, xg:15, yg:20,
  s:[S('Experimental',cLeftExp,GRAY,1.6,false), S('Calculated',cLeftCalc,RED,1.6,true)], sm:0.25},
 {g:[756,857,307,246], x:[0,6], y:[-5,6], xt:rTicks, xm:rMinor, yt:yTicksFTc, ym:yMinorFTc, xn:rName, yn:ftName, xg:26, yg:23,
  s:[S('Experimental',cRightExpMag,MAGG,1.6,false), S('Experimental',cRightExpRe,BLK,2,false), S('Calculated',cRightCalcMag,RED,1.6,true), S('Calculated',cRightCalcRe,RED,1.6,true)], sm:0.4},
 {g:[104,1250,308,247], x:[2,11], y:[-10,9], xt:kTicksD, xm:kMinorD, yt:yTicksKd, ym:yMinorKd, xn:kName, yn:chiName, xg:25, yg:22,
  s:[S('Experimental',dLeftExp,GRAY,1.6,false), S('Calculated',dLeftCalc,RED,1.6,true)], sm:0.25},
 {g:[753,1261,308,247], x:[0,6], y:[-8,10], xt:rTicks, xm:rMinor, yt:yTicksFTd, ym:yMinorFTd, xn:rName, yn:ftmName, xg:28, yg:27,
  s:[S('Experimental',dRightExpMag,MAGG,1.6,false), S('Experimental',dRightExpRe,BLK,2,false), S('Calculated',dRightCalcMag,RED,1.6,true), S('Calculated',dRightCalcRe,RED,1.6,true)], sm:0.4}
];

const legends = [
 {left:271, top:57, padding:[3,3,3,3], gap:4, w:33, fs:15},
 {left:923, top:43, padding:[4,2,19,3], gap:4, w:30, fs:14},
 {left:271, top:455, padding:[4,3,3,3], gap:4, w:33, fs:15},
 {left:924, top:454, padding:[5,3,3,3], gap:4, w:32, fs:15},
 {left:272, top:856, padding:[4,3,3,3], gap:4, w:33, fs:15},
 {left:918, top:864, padding:[3,3,19,2], gap:4, w:31, fs:14},
 {left:289, top:1251, padding:[2,3,2,3], gap:3, w:26, fs:13},
 {left:931, top:1267, padding:[4,3,19,2], gap:3, w:30, fs:14}
];
const solidIcon = 'path://M0,0H33V2H0Z';
const dashIcon = 'path://M0,0H13V2H0Z M20,0H33V2H20Z';

const titles = [
 {x:105, y:54, fs:15, text:'ZnO{s|2} RT'},
 {x:750, y:42, fs:15, text:'ZnO{s|2} RT'},
 {x:107, y:456, fs:15, text:'At 250{o|o}C'},
 {x:759, y:453, fs:15, text:'At 250{o|o}C'},
 {x:107, y:858, fs:15, text:'At 500{o|o}C'},
 {x:758, y:862, fs:15, text:'At 500{o|o}C'},
 {x:107, y:1251, fs:12, text:'After Cooling to 50{o|o}C'},
 {x:755, y:1264, fs:12, text:'After Cooling to 50{o|o}C'}
];
const panelLabels = [
 {x:36, y:43, t:'(a)'}, {x:29, y:452, t:'(b)'}, {x:27, y:854, t:'(c)'}, {x:29, y:1244, t:'(d)'}
];

const option = {animation:false, backgroundColor:'#fff', grid:[], xAxis:[], yAxis:[], series:[], legend:[], graphic:{elements:[]}};

function nameCfg(n, fs){
  if (n.rich) return {name:n.text, nameTextStyle:{rich:n.rich}};
  return {name:n.text, nameTextStyle:{fontSize:fs, fontWeight:'bold', fontFamily:F, color:'#000'}};
}

panels.forEach((p,i)=>{
  option.grid.push({left:p.g[0], top:p.g[1], width:p.g[2], height:p.g[3], show:true, borderColor:'#222', borderWidth:1, containLabel:false, outerBoundsMode:'none'});
  const labStyle = {color:'#000', fontSize:16, fontWeight:'bold', fontFamily:F};
  option.xAxis.push(Object.assign({type:'value', gridIndex:i, position:'bottom', min:p.x[0], max:p.x[1],
    axisLine:{show:true, onZero:false, lineStyle:{color:'#000', width:1}}, splitLine:{show:false},
    axisTick:{show:true, inside:false, length:5, customValues:p.xt, lineStyle:{color:'#000', width:1}},
    axisLabel:Object.assign({show:true, customValues:p.xt, margin:6, formatter:v=>String(v)}, labStyle),
    nameLocation:'middle', nameGap:p.xg}, nameCfg(p.xn, 16)));
  option.xAxis.push({type:'value', gridIndex:i, position:'bottom', min:p.x[0], max:p.x[1],
    axisLine:{show:false, onZero:false}, axisLabel:{show:false}, splitLine:{show:false},
    axisTick:{show:true, inside:false, length:3, customValues:p.xm, lineStyle:{color:'#000', width:1}}});
  option.yAxis.push(Object.assign({type:'value', gridIndex:i, position:'left', min:p.y[0], max:p.y[1],
    axisLine:{show:true, onZero:false, lineStyle:{color:'#000', width:1}}, splitLine:{show:false},
    axisTick:{show:true, inside:false, length:5, customValues:p.yt, lineStyle:{color:'#000', width:1}},
    axisLabel:Object.assign({show:true, customValues:p.yt, margin:6, formatter:v=>String(v)}, labStyle),
    nameLocation:'middle', nameGap:p.yg}, nameCfg(p.yn, 16)));
  option.yAxis.push({type:'value', gridIndex:i, position:'left', min:p.y[0], max:p.y[1],
    axisLine:{show:false, onZero:false}, axisLabel:{show:false}, splitLine:{show:false},
    axisTick:{show:true, inside:false, length:3, customValues:p.ym, lineStyle:{color:'#000', width:1}}});
  p.s.forEach((s,j)=>{
    option.series.push({type:'line', name:s.name, xAxisIndex:2*i, yAxisIndex:2*i, data:s.data,
      symbol:'none', showSymbol:false, smooth:p.sm, silent:true, z:3+j,
      lineStyle:{color:s.color, width:s.width, type:s.dashed?[6,4]:'solid'},
      itemStyle:{color:s.color}});
  });
  const L = legends[i];
  option.legend.push({data:[{name:'Experimental', icon:solidIcon}, {name:'Calculated', icon:dashIcon}],
    orient:'vertical', left:L.left, top:L.top,
    padding:L.padding, itemGap:L.gap, itemWidth:L.w, itemHeight:2, selectedMode:false,
    borderColor:'#333', borderWidth:1, backgroundColor:'#fff', borderRadius:0,
    textStyle:{fontSize:L.fs, fontWeight:'bold', fontFamily:F, color:'#000'}});
  const T = titles[i];
  option.graphic.elements.push({type:'text', x:T.x, y:T.y, z:100, style:{text:T.text, fontSize:T.fs, fontWeight:'bold', fontFamily:F, fill:'#000', lineHeight:T.fs+5,
    rich:{s:{fontSize:Math.round(T.fs*0.65), fontWeight:'bold', fontFamily:F, fill:'#000', lineHeight:Math.round(T.fs*0.65), verticalAlign:'bottom'},
          o:{fontSize:Math.round(T.fs*0.62), fontWeight:'bold', fontFamily:F, fill:'#000', lineHeight:Math.round(T.fs*0.62), verticalAlign:'top'}}}});
});

panelLabels.forEach(l=>{
  option.graphic.elements.push({type:'text', x:l.x, y:l.y, z:100, style:{text:l.t, fontSize:24, fontWeight:'bold', fontFamily:F, fill:'#000'}});
});

// table frame lines
const lines = [[9,12,1200,12],[9,411,1200,411],[9,810,1200,810],[9,1208,1200,1208],[9,12,9,1602],[610,12,610,1602]];
lines.forEach(l=>{
  option.graphic.elements.push({type:'line', z:50, shape:{x1:l[0],y1:l[1],x2:l[2],y2:l[3]}, style:{stroke:'#000', lineWidth:2}});
});

// watermark
option.graphic.elements.push({type:'text', x:595, y:1025, rotation:52*Math.PI/180, z:-10,
  style:{text:'Accepted Manuscript', fontSize:250, fontFamily:'"Liberation Serif", "Times New Roman", serif', fill:'#b3b3b3', align:'center', verticalAlign:'middle'}});

const chart = echarts.init(document.getElementById('c'), null, {renderer:'canvas'});
chart.setOption(option);
</script></body></html>
